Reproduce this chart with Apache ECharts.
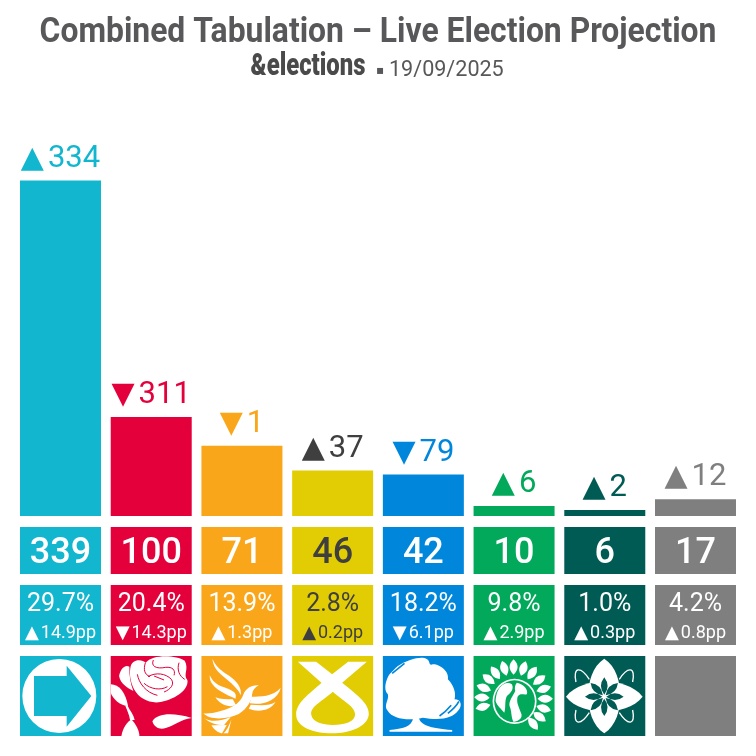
<!DOCTYPE html>
<html>

<head>
    <meta charset="utf-8">
    <title>Combined Tabulation</title>
    <script src="https://cdn.jsdelivr.net/npm/echarts@6/dist/echarts.min.js"></script>
    <style>
        html, body { margin: 0; padding: 0; background: #fff; }
    </style>
</head>

<body>
    <div id="main" style="width: 756px;height:756px;"></div>
    <script type="text/javascript">
        var parties = ['Reform', 'Labour', 'Lib Dem', 'SNP', 'Conservative', 'Green', 'Restore', 'Other'];
        var seats = [339, 100, 71, 46, 42, 10, 6, 17];
        var seatChange = [334, -311, -1, 37, -79, 6, 2, 12];
        var voteShare = [29.7, 20.4, 13.9, 2.8, 18.2, 9.8, 1.0, 4.2];
        var voteChange = [14.9, -14.3, 1.3, 0.2, -6.1, 2.9, 0.3, 0.8];
        var colors = ['#12B6CF', '#E4003B', '#FAA61A', '#E2CD05', '#0087DC', '#02A95B', '#005B54', '#7F7F7F'];
        var labelColors = ['#fff', '#fff', '#fff', '#3F3F3F', '#fff', '#fff', '#fff', '#fff'];
        var headColors = ['#12B6CF', '#E4003B', '#FAA61A', '#3F3F3F', '#0087DC', '#02A95B', '#005B54', '#7F7F7F'];
        var tiles = [1, 1, 1, 1, 1, 1, 1, 1];

        var BODY_FONT = 'Roboto';

        function arrow(v) {
            return v < 0 ? '▼' : '▲';
        }

        // radial leaf, logos are drawn in a 243x240 box
        function leaf(cx, cy, deg, r0, r1, w) {
            var a = deg * Math.PI / 180;
            var ux = Math.sin(a), uy = -Math.cos(a);
            var nx = -uy, ny = ux;
            var mid = (r0 + r1) / 2;
            var p = function (r, s) {
                return (cx + ux * r + nx * s).toFixed(1) + ' ' + (cy + uy * r + ny * s).toFixed(1);
            };
            return 'M' + p(r0, 0) + ' Q' + p(mid, w) + ' ' + p(r1, 0) + ' Q' + p(mid, -w) + ' ' + p(r0, 0) + 'Z';
        }

        function leaves(cx, cy, angles, r0, r1, w) {
            return angles.map(function (d) { return leaf(cx, cy, d, r0, r1, w); }).join(' ');
        }

        var logos = [
            [
                { fill: 'w', d: 'M118 9 A111 111 0 1 1 117.9 9Z' },
                { fill: 'c', d: 'M42 60 L140 60 L140 29 L214 120 L140 212 L140 180 L42 180Z' }
            ],
            [
                { fill: 'w', d: 'M25 60 C30 35 45 25 56 32 C55 60 60 85 68 105 C50 95 30 85 25 60Z' },
                { fill: 'w', d: 'M60 30 C68 8 95 10 105 20 C125 -6 195 -4 222 14 C236 40 216 55 230 72 C235 98 200 128 150 138 C118 144 85 128 70 100 C58 76 55 52 60 30Z' },
                { stroke: 'c', w: 3, d: 'M104 20 C98 40 100 55 118 62 M128 12 C120 30 135 40 165 34 C185 32 195 42 190 58 M112 62 C135 48 165 52 182 70 C192 85 180 100 160 108 M100 82 C120 100 150 104 170 92 M80 55 C84 80 105 110 140 118 M205 20 C198 40 205 60 222 70 M130 60 L160 72' },
                { fill: 'w', d: 'M0 85 C25 85 45 110 52 150 C30 150 5 128 0 110Z' },
                { fill: 'w', d: 'M50 148 C58 165 68 175 72 192 L58 192 C55 175 50 165 44 150Z' },
                { fill: 'w', d: 'M32 240 C36 216 50 198 62 190 C76 205 86 225 86 240Z' },
                { fill: 'w', d: 'M125 196 C140 170 190 170 243 186 C210 190 190 210 165 216 C150 222 130 216 125 196Z' }
            ],
            [
                { fill: 'w', d: 'M33 8 C36 50 75 62 100 92 C110 102 115 110 118 118 C124 85 88 62 66 48 C50 36 38 22 33 8Z' },
                { fill: 'w', d: 'M25 58 C22 92 65 112 102 128 C112 104 74 98 52 88 C38 80 30 70 25 58Z' },
                { fill: 'w', d: 'M42 124 C58 150 85 154 104 148 L94 130 C75 130 58 130 42 124Z' },
                { fill: 'w', d: 'M172 88 C150 86 132 98 126 115 C120 135 100 155 55 166 C35 172 15 174 6 172 C25 194 80 190 112 174 C138 158 152 132 152 115 C154 102 160 95 172 88Z' },
                { fill: 'w', d: 'M238 95 C215 122 175 122 150 122 L145 142 C185 148 228 134 238 95Z' },
                { fill: 'w', d: 'M222 138 C205 150 180 148 148 146 L142 158 C170 170 208 164 222 138Z' },
                { fill: 'w', d: 'M8 185 C25 200 60 195 88 183 L68 207 C45 207 25 202 8 185Z' },
                { fill: 'w', d: 'M30 208 C40 225 55 232 62 232 L76 207Z' },
                { fill: 'w', d: 'M66 232 C76 225 82 210 90 190 L80 232Z' }
            ],
            [
                { fill: 'w', d: 'M17 17 L72 17 L120 55 L168 17 L224 17 L150 80 C200 120 232 145 230 175 C226 215 170 232 120 232 C65 232 12 215 12 175 C12 140 50 115 88 80Z' },
                { fill: 'c', d: 'M122 107 C92 135 55 150 57 175 C60 198 90 207 122 207 C158 207 188 198 189 175 C188 150 152 135 122 107Z' }
            ],
            [
                { fill: 'w', d: 'M45 30 C75 10 115 0 130 8 C145 15 135 30 150 25 C175 25 200 50 195 70 C215 90 220 115 215 130 C235 130 240 150 225 165 C210 185 175 195 120 185 C80 195 30 190 15 165 C0 150 20 130 15 115 C0 100 10 70 20 55 C30 45 35 38 45 30Z' },
                { fill: 'w', d: 'M20 222 C60 218 85 215 92 184 L108 184 C110 205 140 218 208 222 L208 227 L20 227Z' },
                { stroke: 'c', w: 5, d: 'M28 52 C45 38 55 30 65 22 M195 172 C210 160 222 148 228 136 M170 180 C185 170 195 160 205 148' }
            ],
            [
                { fill: 'w', d: leaves(120, 128, [-105, -88, -70, -52, -35, -17, 0, 18, 36, 54, 72, 90, 108, 125, 142], 72, 118, 24) },
                { fill: 'w', d: 'M123 68 A66 68 0 1 1 122.9 68Z' },
                { fill: 'c', d: 'M123 73 A61 63 0 1 1 122.9 73Z' },
                { fill: 'w', d: 'M90 85 C75 95 68 110 66 135 C70 150 85 160 92 170 C98 155 92 135 100 120 C112 110 122 100 115 85 C108 80 98 80 90 85Z' },
                { fill: 'w', d: 'M130 80 C150 85 165 100 160 115 C150 118 140 110 132 122 C128 140 135 150 142 170 C150 185 135 195 120 198 C112 185 115 165 108 150 C105 135 118 120 125 105 C122 95 125 85 130 80Z' }
            ],
            [
                { stroke: 'w', w: 4, d: 'M75 70 C50 32 25 30 35 78 M165 70 C190 32 215 30 205 78 M75 170 C50 208 25 210 35 162 M165 170 C190 208 215 210 205 162' },
                { fill: 'w', d: 'M120 8 C155 30 170 80 166 120 C170 160 155 210 120 232 C85 210 70 160 74 120 C70 80 85 30 120 8Z' },
                { fill: 'w', d: 'M5 122 C30 90 80 76 120 76 C160 76 210 90 235 122 C210 155 160 166 120 166 C80 166 30 155 5 122Z' },
                { fill: 'c', d: leaves(120, 122, [0, 45, 90, 135, 180, 225, 270, 315], 6, 58, 20) }
            ],
            []
        ];

        function renderLogo(params, api) {
            var i = api.value(0);
            var p = api.coord([i, 1]);
            var children = logos[i].map(function (part) {
                var style = {};
                if (part.fill) {
                    style.fill = part.fill === 'w' ? '#fff' : colors[i];
                } else {
                    style.fill = null;
                    style.stroke = part.stroke === 'w' ? '#fff' : colors[i];
                    style.lineWidth = part.w;
                }
                return { type: 'path', shape: { pathData: part.d }, style: style };
            });
            return {
                type: 'group',
                x: p[0] - 40.5,
                y: p[1],
                scaleX: 1 / 3,
                scaleY: 1 / 3,
                children: children
            };
        }

        var grids = [
            { left: 15.15, width: 725.7, top: 120, height: 396 },
            { left: 15.15, width: 725.7, top: 527, height: 47 },
            { left: 15.15, width: 725.7, top: 585, height: 60 },
            { left: 15.15, width: 725.7, top: 656, height: 80 }
        ];

        var xAxes = grids.map(function (g, i) {
            return { type: 'category', gridIndex: i, data: parties, show: false };
        });
        var yAxes = grids.map(function (g, i) {
            return { type: 'value', gridIndex: i, min: 0, max: i === 0 ? 400 : 1, show: false };
        });

        function colored(values) {
            return values.map(function (v, i) {
                return { value: v, itemStyle: { color: colors[i] } };
            });
        }

        var myChart = echarts.init(document.getElementById('main'));
        var option = {
            animation: false,
            backgroundColor: '#fff',
            // no condensed face installed, so the heading is squeezed horizontally
            graphic: [{
                type: 'text',
                x: 378,
                y: 33,
                scaleX: 0.91,
                style: {
                    text: 'Combined Tabulation – Live Election Projection',
                    font: 'bold 35px Roboto',
                    fill: '#58585A',
                    textAlign: 'center',
                    textVerticalAlign: 'middle'
                }
            }, {
                type: 'text',
                x: 308,
                y: 67,
                scaleX: 0.745,
                style: {
                    text: '&elections',
                    font: '900 32px Roboto',
                    fill: '#4A4A4A',
                    textAlign: 'center',
                    textVerticalAlign: 'middle'
                }
            }, {
                type: 'text',
                x: 376,
                y: 71,
                style: {
                    text: '▪',
                    font: '12px "DejaVu Sans"',
                    fill: '#58585A',
                    textVerticalAlign: 'middle'
                }
            }, {
                type: 'text',
                x: 389,
                y: 70,
                scaleX: 0.98,
                style: {
                    text: '19/09/2025',
                    font: '22px Roboto',
                    fill: '#58585A',
                    textVerticalAlign: 'middle'
                }
            }],
            grid: grids,
            xAxis: xAxes,
            yAxis: yAxes,
            series: [{
                name: 'Seats',
                type: 'bar',
                barWidth: 81,
                silent: true,
                data: seats.map(function (v, i) {
                    return {
                        value: v,
                        itemStyle: { color: colors[i] },
                        label: {
                            show: true,
                            position: 'top',
                            distance: 6,
                            formatter: '{t|' + arrow(seatChange[i]) + '}{n|' + Math.abs(seatChange[i]) + '}',
                            rich: {
                                t: { fontFamily: 'DejaVu Sans', fontSize: 30, color: headColors[i], padding: [0, 4, 0, 0] },
                                n: { fontFamily: BODY_FONT, fontSize: 31, color: headColors[i] }
                            }
                        }
                    };
                })
            }, {
                name: 'Seat tile',
                type: 'bar',
                xAxisIndex: 1,
                yAxisIndex: 1,
                barWidth: 81,
                silent: true,
                data: seats.map(function (v, i) {
                    return {
                        value: tiles[i],
                        itemStyle: { color: colors[i] },
                        label: {
                            show: true,
                            position: 'inside',
                            offset: [0, 3],
                            fontFamily: BODY_FONT,
                            fontWeight: 500,
                            fontSize: 36,
                            color: labelColors[i],
                            formatter: String(v)
                        }
                    };
                })
            }, {
                name: 'Vote tile',
                type: 'bar',
                xAxisIndex: 2,
                yAxisIndex: 2,
                barWidth: 81,
                silent: true,
                data: tiles.map(function (v, i) {
                    var c = labelColors[i];
                    return {
                        value: v,
                        itemStyle: { color: colors[i] },
                        label: {
                            show: true,
                            position: 'inside',
                            offset: [0, 2],
                            formatter: '{s|' + voteShare[i].toFixed(1) + '%}\n{t|' + arrow(voteChange[i]) + '}{d|' + Math.abs(voteChange[i]).toFixed(1) + 'pp}',
                            rich: {
                                s: { fontFamily: BODY_FONT, fontSize: 25, color: c, lineHeight: 32, align: 'center' },
                                t: { fontFamily: 'DejaVu Sans', fontSize: 18, color: c, lineHeight: 24, padding: [0, 2, 0, 0] },
                                d: { fontFamily: BODY_FONT, fontSize: 18, color: c, lineHeight: 24 }
                            }
                        }
                    };
                })
            }, {
                name: 'Logo tile',
                type: 'bar',
                xAxisIndex: 3,
                yAxisIndex: 3,
                barWidth: 81,
                silent: true,
                data: colored(tiles)
            }, {
                name: 'Logos',
                type: 'custom',
                xAxisIndex: 3,
                yAxisIndex: 3,
                silent: true,
                clip: false,
                z: 5,
                encode: { x: 0 },
                data: parties.map(function (p, i) { return [i]; }),
                renderItem: renderLogo
            }]
        };
        myChart.setOption(option);
    </script>
</body>

</html>
